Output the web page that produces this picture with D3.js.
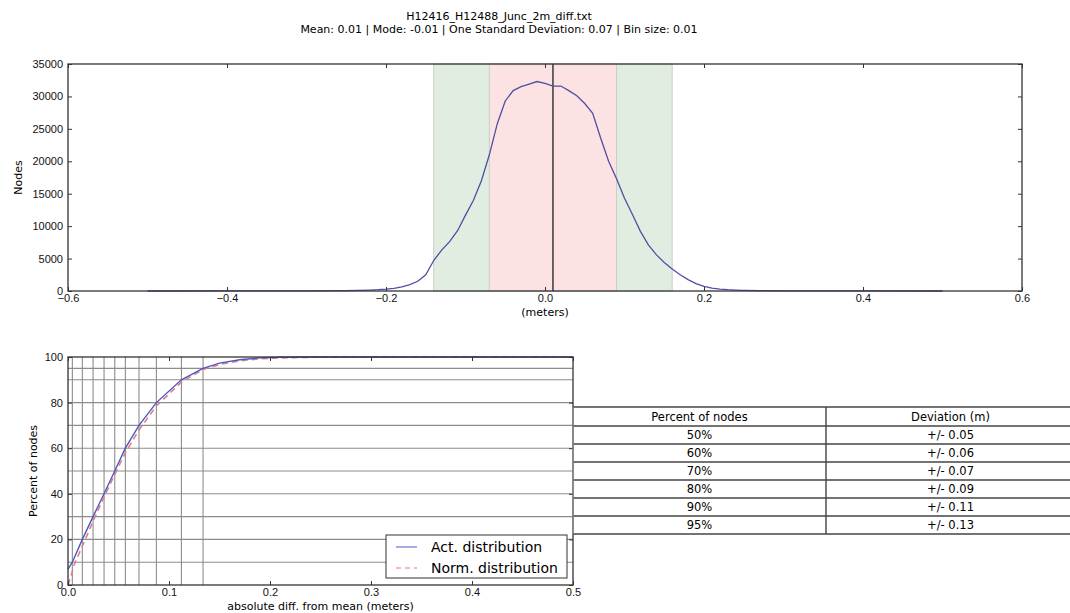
<!DOCTYPE html>
<html>
<head>
<meta charset="utf-8">
<script src="https://cdn.jsdelivr.net/npm/d3@7"></script>
<style>
  body { margin: 0; background: #fff; }
  svg { font-family: "DejaVu Sans", sans-serif; }
  .tick text { font-size: 11px; fill: #111; }
  .tick line { stroke: #333; }
</style>
</head>
<body>
<div id="container"></div>
<script>
// histogram of differences (bin centre, node count)
const binX = [-0.5, -0.4, -0.3, -0.25, -0.22, -0.21, -0.20, -0.19, -0.18, -0.17, -0.16, -0.15, -0.14, -0.13, -0.12, -0.11,
              -0.10, -0.09, -0.08, -0.07, -0.06, -0.05, -0.04, -0.03, -0.02, -0.01, 0.00, 0.01, 0.02, 0.03, 0.04,
              0.05, 0.06, 0.07, 0.08, 0.09, 0.10, 0.11, 0.12, 0.13, 0.14, 0.15, 0.16, 0.17, 0.18, 0.19, 0.20,
              0.21, 0.22, 0.23, 0.24, 0.25, 0.27, 0.30, 0.35, 0.4, 0.5];
const binCount = [0, 5, 20, 60, 150, 200, 280, 420, 620, 1000, 1500, 2500, 4700, 6300, 7600, 9300,
                  11700, 14000, 17000, 21000, 25800, 29300, 30900, 31500, 31900, 32300, 32000, 31600, 31600, 30900, 30100,
                  28900, 27400, 23600, 20000, 17300, 14300, 11800, 9200, 7100, 5600, 4400, 3400, 2500, 1750, 1150, 700,
                  450, 280, 200, 150, 110, 60, 25, 10, 5, 0];
const meanValue = 0.01;
const outerSpan = [-0.14, 0.16];
const innerSpan = [-0.07, 0.09];

// cumulative distribution
const actX = [0, 0.0043, 0.0142, 0.0248, 0.0357, 0.0463, 0.0568, 0.0703, 0.0875, 0.1123, 0.1337, 0.15, 0.17, 0.19, 0.21, 0.25, 0.5];
const actPct = [7, 10, 20, 30, 40, 50, 60, 70, 80, 90, 95, 97.3, 98.8, 99.6, 99.9, 100, 100];
const normX = [0, 0.003, 0.0066, 0.0142, 0.0248, 0.0357, 0.0463, 0.0568, 0.0703, 0.0875, 0.1123, 0.1337, 0.15, 0.17, 0.19, 0.21, 0.25, 0.3, 0.5];
const normPct = [0, 4, 9.5, 17, 28, 38.5, 48.5, 58, 68, 78.5, 89, 94.5, 96.7, 98.3, 99.2, 99.6, 99.95, 100, 100];

// percentile grid lines
const gridPct = [10, 20, 30, 40, 50, 60, 70, 80, 90, 95];
const gridDev = [0.0043, 0.0142, 0.0248, 0.0357, 0.0463, 0.0568, 0.0703, 0.0875, 0.1123, 0.1337];

// table
const tableHeader = ["Percent of nodes", "Deviation (m)"];
const tablePercent = ["50%", "60%", "70%", "80%", "90%", "95%"];
const tableDeviation = ["+/- 0.05", "+/- 0.06", "+/- 0.07", "+/- 0.09", "+/- 0.11", "+/- 0.13"];

const width = 1070;
const height = 613;

const svg = d3.select("#container")
              .append("svg")
              .attr("width", width)
              .attr("height", height);

// title
svg.append("text")
   .attr("x", 499).attr("y", 20)
   .attr("text-anchor", "middle")
   .style("font-size", "11px")
   .text("H12416_H12488_Junc_2m_diff.txt");
svg.append("text")
   .attr("x", 499).attr("y", 33)
   .attr("text-anchor", "middle")
   .style("font-size", "11px")
   .text("Mean: 0.01 | Mode: -0.01 | One Standard Deviation: 0.07 | Bin size: 0.01");

// ---------- top plot ----------
const topBox = { left: 68, right: 1022, top: 64, bot: 291 };
const xTop = d3.scaleLinear().domain([-0.6, 0.6]).range([topBox.left, topBox.right]);
const yTop = d3.scaleLinear().domain([0, 35000]).range([topBox.bot, topBox.top]);

const drawSpan = (span, fill) => {
  svg.append("rect")
     .attr("x", xTop(span[0]))
     .attr("y", topBox.top)
     .attr("width", xTop(span[1]) - xTop(span[0]))
     .attr("height", topBox.bot - topBox.top)
     .style("fill", fill)
     .style("stroke", "#c9cfc9")
     .style("stroke-width", 1);
};
drawSpan(outerSpan, "#e1ede1");
drawSpan(innerSpan, "#fce2e2");

svg.append("line")
   .attr("x1", xTop(meanValue)).attr("x2", xTop(meanValue))
   .attr("y1", topBox.top).attr("y2", topBox.bot)
   .style("stroke", "#3a3a3a")
   .style("stroke-width", 1.5);

const histLine = d3.line()
                   .x((d, i) => xTop(binX[i]))
                   .y((d) => yTop(d));
svg.append("path")
   .datum(binCount)
   .attr("d", histLine)
   .style("fill", "none")
   .style("stroke", "#4f4fa6")
   .style("stroke-width", 1.3);

const styleAxis = (g) => {
  g.select(".domain").remove();
  g.selectAll(".tick line").style("stroke", "#333");
};

svg.append("g")
   .attr("transform", "translate(0," + topBox.bot + ")")
   .call(d3.axisBottom(xTop).ticks(6).tickSizeInner(-4).tickSizeOuter(0).tickPadding(3).tickFormat(d3.format(".1f")))
   .call(styleAxis);
svg.append("g")
   .attr("transform", "translate(0," + topBox.top + ")")
   .call(d3.axisTop(xTop).ticks(6).tickSizeInner(-4).tickSizeOuter(0).tickFormat(""))
   .call(styleAxis);
svg.append("g")
   .attr("transform", "translate(" + topBox.left + ",0)")
   .call(d3.axisLeft(yTop).ticks(7).tickSizeInner(-4).tickSizeOuter(0).tickPadding(5).tickFormat(d3.format("d")))
   .call(styleAxis);
svg.append("g")
   .attr("transform", "translate(" + topBox.right + ",0)")
   .call(d3.axisRight(yTop).ticks(7).tickSizeInner(-4).tickSizeOuter(0).tickFormat(""))
   .call(styleAxis);

svg.append("rect")
   .attr("x", topBox.left).attr("y", topBox.top)
   .attr("width", topBox.right - topBox.left).attr("height", topBox.bot - topBox.top)
   .style("fill", "none").style("stroke", "#333").style("stroke-width", 1.3);

svg.append("text")
   .attr("x", (topBox.left + topBox.right) / 2).attr("y", 316)
   .attr("text-anchor", "middle")
   .style("font-size", "11px")
   .text("(meters)");
svg.append("text")
   .attr("transform", "translate(22," + (topBox.top + topBox.bot) / 2 + ")rotate(-90)")
   .attr("text-anchor", "middle")
   .style("font-size", "11px")
   .text("Nodes");

// ---------- bottom plot ----------
const botBox = { left: 68, right: 573, top: 357, bot: 585 };
const xBot = d3.scaleLinear().domain([0, 0.5]).range([botBox.left, botBox.right]);
const yBot = d3.scaleLinear().domain([0, 100]).range([botBox.bot, botBox.top]);

svg.selectAll(".hgrid")
   .data(gridPct)
   .enter()
   .append("line")
   .attr("class", "hgrid")
   .attr("x1", botBox.left).attr("x2", botBox.right)
   .attr("y1", (d) => yBot(d)).attr("y2", (d) => yBot(d))
   .style("stroke", "#8c8c8c").style("stroke-width", 1.1);
svg.selectAll(".vgrid")
   .data(gridDev)
   .enter()
   .append("line")
   .attr("class", "vgrid")
   .attr("x1", (d) => xBot(d)).attr("x2", (d) => xBot(d))
   .attr("y1", botBox.top).attr("y2", botBox.bot)
   .style("stroke", "#8c8c8c").style("stroke-width", 1.1);

const normLine = d3.line()
                   .x((d, i) => xBot(normX[i]))
                   .y((d) => yBot(d));
const actLine = d3.line()
                  .x((d, i) => xBot(actX[i]))
                  .y((d) => yBot(d));
svg.append("path")
   .datum(normPct)
   .attr("d", normLine)
   .style("fill", "none")
   .style("stroke", "#e47c92")
   .style("stroke-width", 1.6)
   .style("stroke-dasharray", "6,4");
svg.append("path")
   .datum(actPct)
   .attr("d", actLine)
   .style("fill", "none")
   .style("stroke", "#4a5cb8")
   .style("stroke-width", 1.4);

svg.append("g")
   .attr("transform", "translate(0," + botBox.bot + ")")
   .call(d3.axisBottom(xBot).ticks(5).tickSizeInner(-4).tickSizeOuter(0).tickPadding(3).tickFormat(d3.format(".1f")))
   .call(styleAxis);
svg.append("g")
   .attr("transform", "translate(0," + botBox.top + ")")
   .call(d3.axisTop(xBot).ticks(5).tickSizeInner(-4).tickSizeOuter(0).tickFormat(""))
   .call(styleAxis);
svg.append("g")
   .attr("transform", "translate(" + botBox.left + ",0)")
   .call(d3.axisLeft(yBot).ticks(5).tickSizeInner(-4).tickSizeOuter(0).tickPadding(5).tickFormat(d3.format("d")))
   .call(styleAxis);
svg.append("g")
   .attr("transform", "translate(" + botBox.right + ",0)")
   .call(d3.axisRight(yBot).ticks(5).tickSizeInner(-4).tickSizeOuter(0).tickFormat(""))
   .call(styleAxis);

svg.append("rect")
   .attr("x", botBox.left).attr("y", botBox.top)
   .attr("width", botBox.right - botBox.left).attr("height", botBox.bot - botBox.top)
   .style("fill", "none").style("stroke", "#333").style("stroke-width", 1.3);

svg.append("text")
   .attr("x", (botBox.left + botBox.right) / 2).attr("y", 610)
   .attr("text-anchor", "middle")
   .style("font-size", "11px")
   .text("absolute diff. from mean (meters)");
svg.append("text")
   .attr("transform", "translate(37," + (botBox.top + botBox.bot) / 2 + ")rotate(-90)")
   .attr("text-anchor", "middle")
   .style("font-size", "11px")
   .text("Percent of nodes");

// legend
const legend = svg.append("g").attr("transform", "translate(386,535)");
legend.append("rect")
      .attr("width", 181).attr("height", 43)
      .style("fill", "#fff").style("stroke", "#333").style("stroke-width", 1);
const legendItems = [
  { label: "Act. distribution", color: "#8c8fd0", dash: null },
  { label: "Norm. distribution", color: "#f0a0b0", dash: "5,4" }
];
legendItems.forEach((item, i) => {
  legend.append("line")
        .attr("x1", 10).attr("x2", 31)
        .attr("y1", 12 + i * 21).attr("y2", 12 + i * 21)
        .style("stroke", item.color).style("stroke-width", 1.5)
        .style("stroke-dasharray", item.dash);
  legend.append("text")
        .attr("x", 45).attr("y", 17 + i * 21)
        .style("font-size", "14px")
        .text(item.label);
});

// ---------- table ----------
const table = { left: 573, mid: 826, right: 1075 };
const rowLines = [407, 426, 444, 462, 480, 498, 516, 534];
const tableRows = [tableHeader].concat(tablePercent.map((p, i) => [p, tableDeviation[i]]));

svg.selectAll(".rowline")
   .data(rowLines)
   .enter()
   .append("line")
   .attr("class", "rowline")
   .attr("x1", table.left).attr("x2", table.right)
   .attr("y1", (d) => d).attr("y2", (d) => d)
   .style("stroke", "#444").style("stroke-width", 1.6);
svg.append("line")
   .attr("x1", table.mid).attr("x2", table.mid)
   .attr("y1", rowLines[0]).attr("y2", rowLines[rowLines.length - 1])
   .style("stroke", "#444").style("stroke-width", 1.4);
svg.append("line")
   .attr("x1", table.left).attr("x2", table.left)
   .attr("y1", rowLines[0]).attr("y2", rowLines[rowLines.length - 1])
   .style("stroke", "#999").style("stroke-width", 1);

tableRows.forEach((row, i) => {
  const cy = (rowLines[i] + rowLines[i + 1]) / 2 + 4;
  svg.append("text")
     .attr("x", (table.left + table.mid) / 2).attr("y", cy)
     .attr("text-anchor", "middle")
     .style("font-size", "11.5px")
     .text(row[0]);
  svg.append("text")
     .attr("x", (table.mid + table.right) / 2).attr("y", cy)
     .attr("text-anchor", "middle")
     .style("font-size", "11.5px")
     .text(row[1]);
});
</script>
</body>
</html>
